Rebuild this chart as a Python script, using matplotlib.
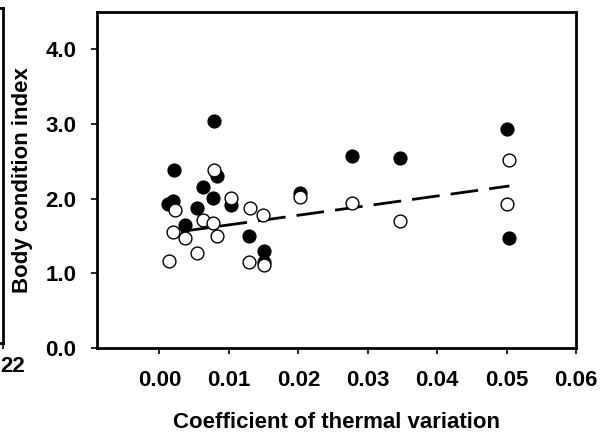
import matplotlib
matplotlib.use("Agg")
import matplotlib.pyplot as plt

plt.rcParams['font.family'] = ['Liberation Sans', 'DejaVu Sans']
plt.rcParams['font.weight'] = 'bold'

# Filled circles (series 1)
filled_x = [0.0078, 0.0021, 0.0083, 0.0063, 0.0077, 0.0019, 0.0012, 0.0054,
            0.0103, 0.0037, 0.0129, 0.0150, 0.0150, 0.0203, 0.0277, 0.0347,
            0.0500, 0.0504]
filled_y = [3.04, 2.38, 2.31, 2.16, 2.01, 1.97, 1.93, 1.88,
            1.92, 1.65, 1.50, 1.30, 1.15, 2.08, 2.57, 2.54,
            2.93, 1.47]

# Open circles (series 2)
open_x = [0.0078, 0.0022, 0.0103, 0.0130, 0.0149, 0.0063, 0.0077, 0.0083,
          0.0020, 0.0037, 0.0054, 0.0014, 0.0129, 0.0150, 0.0203, 0.0277,
          0.0347, 0.0504, 0.0500]
open_y = [2.39, 1.85, 2.01, 1.87, 1.78, 1.71, 1.68, 1.50,
          1.56, 1.47, 1.27, 1.16, 1.15, 1.11, 2.02, 1.94,
          1.70, 2.52, 1.93]

# Regression line endpoints
line_x = [0.0031, 0.0504]
line_y = [1.56, 2.17]

xticks = [0.00, 0.01, 0.02, 0.03, 0.04, 0.05, 0.06]
xtick_labels = ['0.00', '0.01', '0.02', '0.03', '0.04', '0.05', '0.06']
yticks = [0.0, 1.0, 2.0, 3.0, 4.0]
ytick_labels = ['0.0', '1.0', '2.0', '3.0', '4.0']

W, H = 614, 437
FS = 16
fig = plt.figure(figsize=(W / 100, H / 100), dpi=100)

# Partial neighbouring panel at the left edge
ax0 = fig.add_axes([-0.5, (H - 343) / H, 0.5 + 3 / W, (343 - 8) / H])
ax0.spines['left'].set_visible(False)
for s in ['right', 'top', 'bottom']:
    ax0.spines[s].set_linewidth(2.0)
ax0.set_xlim(0, 1)
ax0.set_ylim(0, 1)
ax0.set_xticks([1.0])
ax0.set_xticklabels([''])
ax0.set_yticks([])
ax0.tick_params(axis='x', direction='out', length=4, width=1.2)
fig.text(0 / W, 1 - 367 / H, '22', fontsize=FS, fontweight='bold', ha='left', va='center')

ax = fig.add_axes([97 / W, (H - 348) / H, (576 - 97) / W, (348 - 12) / H])
ax.set_xlim(-0.009, 0.06)
ax.set_ylim(0, 4.5)

ax.plot(line_x, line_y, color='black', lw=2.0, dashes=(10, 4), zorder=2)
ax.scatter(filled_x, filled_y, s=85, facecolor='black', edgecolor='black', lw=1.0, zorder=3)
ax.scatter(open_x, open_y, s=85, facecolor='white', edgecolor='black', lw=1.0, zorder=4)

ax.set_xticks(xticks)
ax.set_xticklabels(xtick_labels)
ax.set_yticks(yticks)
ax.set_yticklabels(ytick_labels)
ax.tick_params(direction='out', length=4, width=1.2, labelsize=FS)
ax.tick_params(axis='x', pad=12)
ax.tick_params(axis='y', pad=11)
for lab in ax.get_xticklabels() + ax.get_yticklabels():
    lab.set_fontweight('bold')
for s in ax.spines.values():
    s.set_linewidth(2.0)

ax.set_xlabel('Coefficient of thermal variation', fontsize=FS, fontweight='bold', labelpad=15)
ax.set_ylabel('Body condition index', fontsize=FS, fontweight='bold', labelpad=9)

fig.savefig('out.png', dpi=100)
